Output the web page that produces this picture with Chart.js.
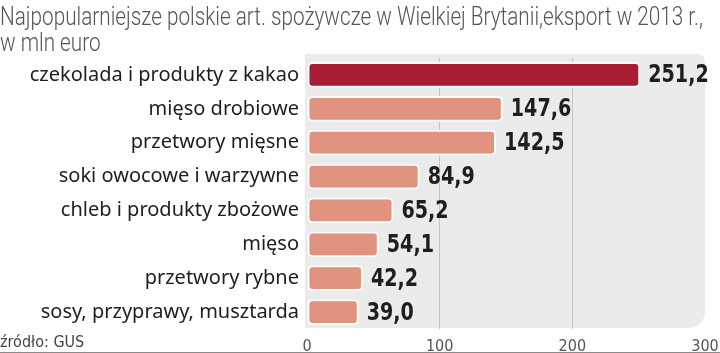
<!DOCTYPE html>
<html>
<head>
<meta charset="utf-8">
<script src="https://cdn.jsdelivr.net/npm/chart.js@4/dist/chart.umd.min.js"></script>
<style>
    html, body { margin: 0; padding: 0; background: #fff; }
    #wrap { width: 720px; height: 353px; position: relative; }
</style>
</head>
<body>
<div id="wrap"><canvas id="chart"></canvas></div>
<script>
const titleLines = ['Najpopularniejsze polskie art. spożywcze w Wielkiej Brytanii,eksport w 2013 r.,', 'w mln euro'];
const sourceText = 'źródło: GUS';
const categories = [
    'czekolada i produkty z kakao',
    'mięso drobiowe',
    'przetwory mięsne',
    'soki owocowe i warzywne',
    'chleb i produkty zbożowe',
    'mięso',
    'przetwory rybne',
    'sosy, przyprawy, musztarda'
];
const values = [251.2, 147.6, 142.5, 84.9, 65.2, 54.1, 42.2, 39.0];
const xTicks = [0, 100, 200, 300];

const NARROW = '"DejaVu Sans Condensed", sans-serif';

// grey rounded panel behind the plot
const panelPlugin = {
    id: 'panel',
    beforeDraw(chart) {
        const { ctx, chartArea: a } = chart;
        ctx.save();
        ctx.fillStyle = '#ebebeb';
        ctx.beginPath();
        ctx.roundRect(a.left - 2, a.top - 4, a.right - a.left + 2, a.bottom - a.top + 3, [0, 8, 16, 0]);
        ctx.fill();
        ctx.restore();
    }
};

// title squeezed to the narrow newspaper look, plus bottom rule
const titlePlugin = {
    id: 'squeezedTitle',
    afterDraw(chart) {
        const { ctx, width, height } = chart;
        ctx.save();
        ctx.strokeStyle = '#8a8a8a';
        ctx.lineWidth = 1;
        ctx.beginPath();
        ctx.moveTo(0, height - 0.5);
        ctx.lineTo(width, height - 0.5);
        ctx.stroke();

        ctx.font = '300 25px Roboto, "DejaVu Sans", sans-serif';
        ctx.fillStyle = '#555';
        ctx.textBaseline = 'alphabetic';
        const sx = Math.min(1, 703 / ctx.measureText(titleLines[0]).width);
        ctx.scale(sx, 1);
        ctx.fillText(titleLines[0], 0, 25);
        ctx.fillText(titleLines[1], 0, 51);
        ctx.restore();
    }
};

// numbers at the end of bars + source line
const labelsPlugin = {
    id: 'valueLabels',
    afterDatasetsDraw(chart) {
        const { ctx } = chart;
        const meta = chart.getDatasetMeta(0);
        ctx.save();
        ctx.fillStyle = '#1e1e1e';
        ctx.font = 'bold 25px "DejaVu Sans Condensed", sans-serif';
        ctx.textBaseline = 'middle';
        ctx.textAlign = 'left';
        meta.data.forEach((bar, i) => {
            ctx.save();
            ctx.translate(bar.x + 8, bar.y + 1);
            ctx.scale(0.85, 1);
            ctx.fillText(values[i].toFixed(1).replace('.', ','), 0, 0);
            ctx.restore();
        });
        ctx.font = '16px ' + NARROW;
        ctx.fillStyle = '#444';
        ctx.textBaseline = 'alphabetic';
        ctx.fillText(sourceText, 0, 347);
        ctx.restore();
    }
};

const ctx = document.getElementById('chart');

new Chart(ctx, {
    type: 'bar',
    data: {
        labels: categories,
        datasets: [{
            data: values,
            backgroundColor: values.map((v, i) => i === 0 ? '#a71d31' : '#e0947f'),
            borderColor: '#ffffff',
            borderWidth: 2,
            borderRadius: 5,
            borderSkipped: false,
            barPercentage: 0.76,
            categoryPercentage: 1
        }]
    },
    options: {
        indexAxis: 'y',
        responsive: true,
        maintainAspectRatio: false,
        animation: false,
        layout: { padding: { left: 0, right: 0, top: 58, bottom: 0 } },
        scales: {
            x: {
                min: 0,
                max: 300,
                afterBuildTicks: (scale) => { scale.ticks = xTicks.map(v => ({ value: v })); },
                afterFit: (scale) => { scale.height = 24; scale.paddingRight = 15; },
                border: { display: false },
                grid: {
                    color: (c) => (c.tick && (c.tick.value === 100 || c.tick.value === 200)) ? '#c4c4c4' : 'rgba(0,0,0,0)',
                    drawTicks: false
                },
                ticks: {
                    color: '#555',
                    font: { family: NARROW, size: 16 },
                    padding: 8,
                    maxRotation: 0
                }
            },
            y: {
                afterFit: (scale) => { scale.width = 307; },
                border: { display: false },
                grid: { display: false },
                ticks: {
                    color: '#1e1e1e',
                    font: { family: '"Noto Sans", "Open Sans", sans-serif', size: 20 },
                    padding: 0
                }
            }
        },
        plugins: {
            legend: { display: false },
            tooltip: { enabled: false },
            title: { display: false }
        }
    },
    plugins: [panelPlugin, labelsPlugin, titlePlugin]
});
</script>
</body>
</html>
